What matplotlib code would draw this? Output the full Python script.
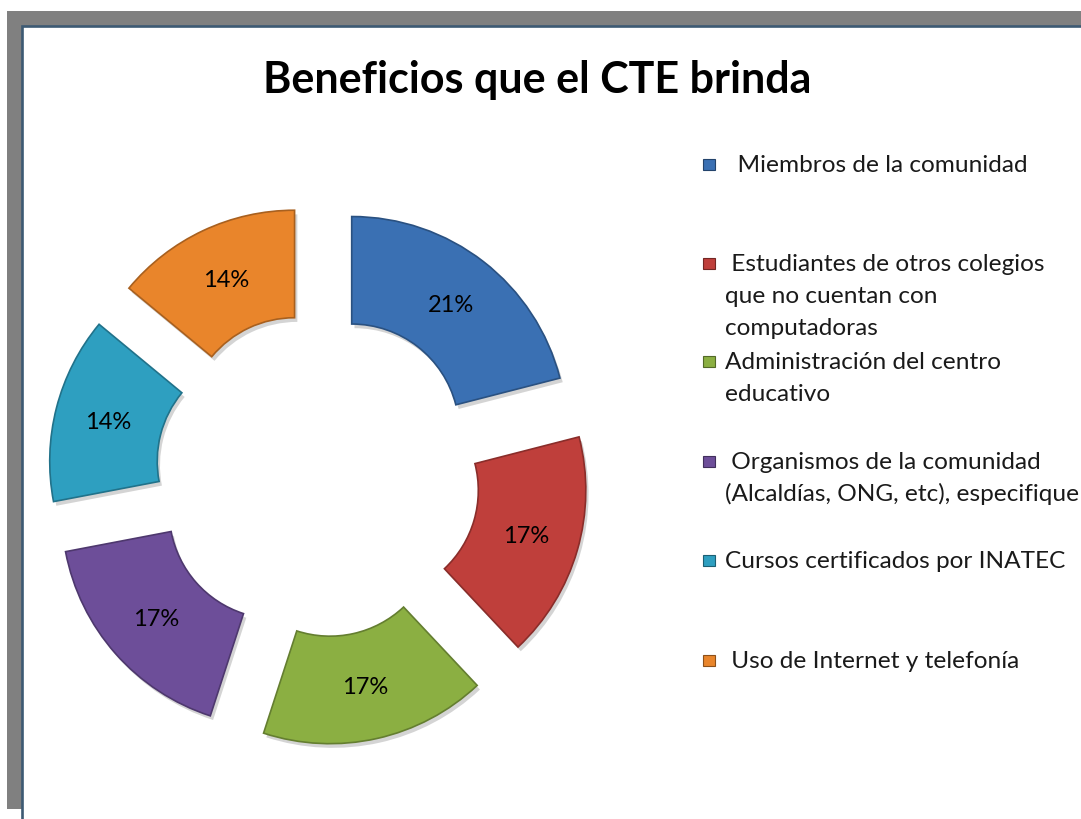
import matplotlib
matplotlib.use("Agg")
import matplotlib.pyplot as plt
from matplotlib.patches import Rectangle
import matplotlib.patheffects as pe
import matplotlib.colors as mcolors

title = "Beneficios que el CTE brinda"
categories = [
    "  Miembros de la comunidad",
    " Estudiantes de otros colegios\nque no cuentan con\ncomputadoras",
    "Administración del centro\neducativo",
    " Organismos de la comunidad\n(Alcaldías, ONG, etc), especifique",
    "Cursos certificados por INATEC",
    " Uso de Internet y telefonía",
]
values = [21, 17, 17, 17, 14, 14]
colors = ["#3A70B3", "#BF3F3B", "#8BAF42", "#6D4E99", "#2E9FC0", "#E9852B"]

W, H = 1081, 820
fig = plt.figure(figsize=(W / 100, H / 100), dpi=100)
fig.patch.set_facecolor("white")

def fx(px):
    return px / W

def fy(py):
    return 1 - py / H

# frame (gray shadow + panel with dark border)
fig.patches.append(Rectangle((fx(7), fy(810)), fx(1200), (810 - 12) / H,
                             transform=fig.transFigure, facecolor="#808080",
                             edgecolor="none", zorder=-20))
fig.patches.append(Rectangle((fx(21.5), fy(840)), fx(1200), (840 - 26.5) / H,
                             transform=fig.transFigure, facecolor="white",
                             edgecolor="#3D5A73", linewidth=1.9, zorder=-19))

font = "Lato"

# pie axes: centre at (318, 476) px, outer radius 215 px
cx, cy, R = 318, 476, 215
half = 300
ax = fig.add_axes([fx(cx - half), fy(cy + half), 2 * half / W, 2 * half / H])

explode = [55 / R] * len(values)
wedges, texts, autotexts = ax.pie(
    values, colors=colors, explode=explode, startangle=90, counterclock=False,
    radius=1.0, wedgeprops=dict(width=0.5, linewidth=1.2),
    autopct=lambda p: f"{p:.0f}%", pctdistance=0.75,
    textprops=dict(fontsize=17, family=font, color="black"),
)
ax.set_xlim(-half / R, half / R)
ax.set_ylim(-half / R, half / R)
ax.axis("off")
for w, c in zip(wedges, colors):
    rgb = mcolors.to_rgb(c)
    w.set_edgecolor(tuple(v * 0.72 for v in rgb))
    w.set_path_effects([pe.SimplePatchShadow(offset=(2, -3), alpha=0.25, shadow_rgbFace="#555555"),
                        pe.Normal()])

# title
fig.text(fx(537), fy(93), title, ha="center", va="baseline",
         fontsize=31, fontweight="bold", family=font, color="black")

# legend (manual)
base_y = [172, 271, 369, 469, 568, 668]
line_gap = 32
for lab, c, by in zip(categories, colors, base_y):
    rgb = mcolors.to_rgb(c)
    fig.patches.append(Rectangle((fx(703), fy(by - 1)), fx(12), 11 / H,
                                 transform=fig.transFigure, facecolor=c,
                                 edgecolor=tuple(v * 0.6 for v in rgb),
                                 linewidth=0.8, zorder=2))
    for i, line in enumerate(lab.split("\n")):
        fig.text(fx(725), fy(by + i * line_gap), line, ha="left", va="baseline",
                 fontsize=17.6, family=font, color="#1a1a1a")

fig.savefig("out.png", dpi=100)
